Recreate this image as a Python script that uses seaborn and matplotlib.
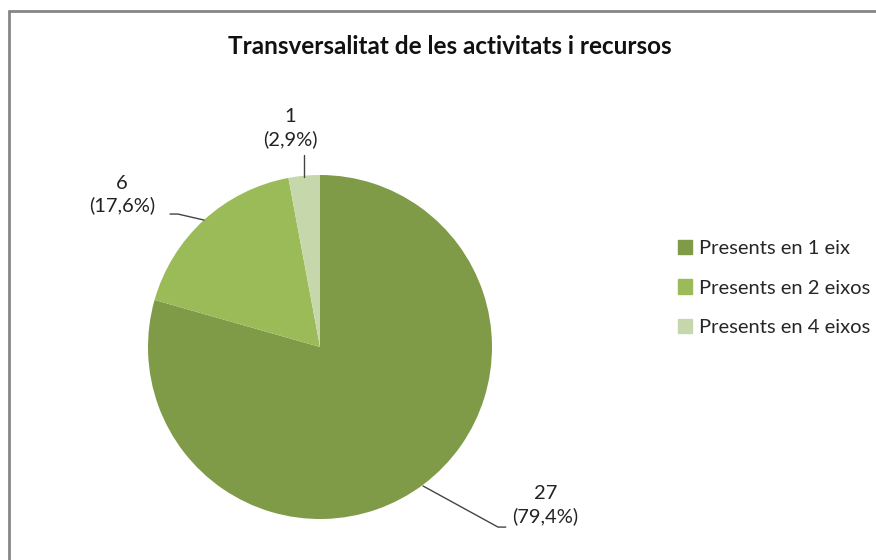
import numpy as np
import matplotlib
matplotlib.use("Agg")
import matplotlib.pyplot as plt
import seaborn as sns
from matplotlib.lines import Line2D

# data
categories = ["Presents en 1 eix", "Presents en 2 eixos", "Presents en 4 eixos"]
values = [27, 6, 1]
colors = ["#7f9b48", "#9bbb59", "#c6d7ab"]
title = "Transversalitat de les activitats i recursos"

sns.set_theme(style="white")
plt.rcParams["font.family"] = ["Lato", "DejaVu Sans"]

fig = plt.figure(figsize=(8.76, 5.6), dpi=100)
fig.patch.set_facecolor("white")

# pie axes: centre (320,347) px, radius 172 px
ax = fig.add_axes([148 / 876, (560 - 347 - 172) / 560, 344 / 876, 344 / 560])
wedges, _ = ax.pie(values, colors=colors, startangle=90, counterclock=False,
                   radius=1, wedgeprops=dict(linewidth=0))
ax.set_xlim(-1, 1)
ax.set_ylim(-1, 1)
ax.set_aspect("equal")
ax.axis("off")

total = sum(values)
labels = [f"{v}\n({v / total * 100:.1f}%)".replace(".", ",") for v in values]

# label positions and leader lines (data units of the pie axes)
label_pos = [(1.31, -0.919), (-1.15, 0.884), (-0.174, 1.273)]
leaders = [
    [(0.599, -0.808), (1.035, -1.047), (1.08, -1.047)],
    [(-0.674, 0.738), (-0.826, 0.773), (-0.872, 0.773)],
    [(-0.093, 0.988), (-0.093, 1.116)],
]
for lab, pos, pts in zip(labels, label_pos, leaders):
    ax.text(pos[0], pos[1], lab, ha="center", va="center", fontsize=14.5,
            color="#222222", linespacing=1.3, clip_on=False)
    xs, ys = zip(*pts)
    ax.plot(xs, ys, color="#444444", lw=1, clip_on=False)

fig.text(450 / 876, 1 - 46 / 560, title, ha="center", va="center",
         fontsize=17.5, fontweight="bold", color="#111111")

handles = [plt.Rectangle((0, 0), 1, 1, color=c) for c in colors]
fig.legend(handles, categories, loc="center left",
           bbox_to_anchor=(660 / 876, 1 - 288 / 560), frameon=False,
           fontsize=14.5, handlelength=0.7, handleheight=0.7,
           handletextpad=0.35, labelspacing=1.12)

# outer chart frame
fig.add_artist(Line2D([8.5 / 876, 8.5 / 876], [0, 1 - 10.5 / 560],
                      transform=fig.transFigure, color="#868686", lw=2))
fig.add_artist(Line2D([8.5 / 876, 1], [1 - 10.5 / 560, 1 - 10.5 / 560],
                      transform=fig.transFigure, color="#868686", lw=2))

fig.savefig("out.png", dpi=100)
